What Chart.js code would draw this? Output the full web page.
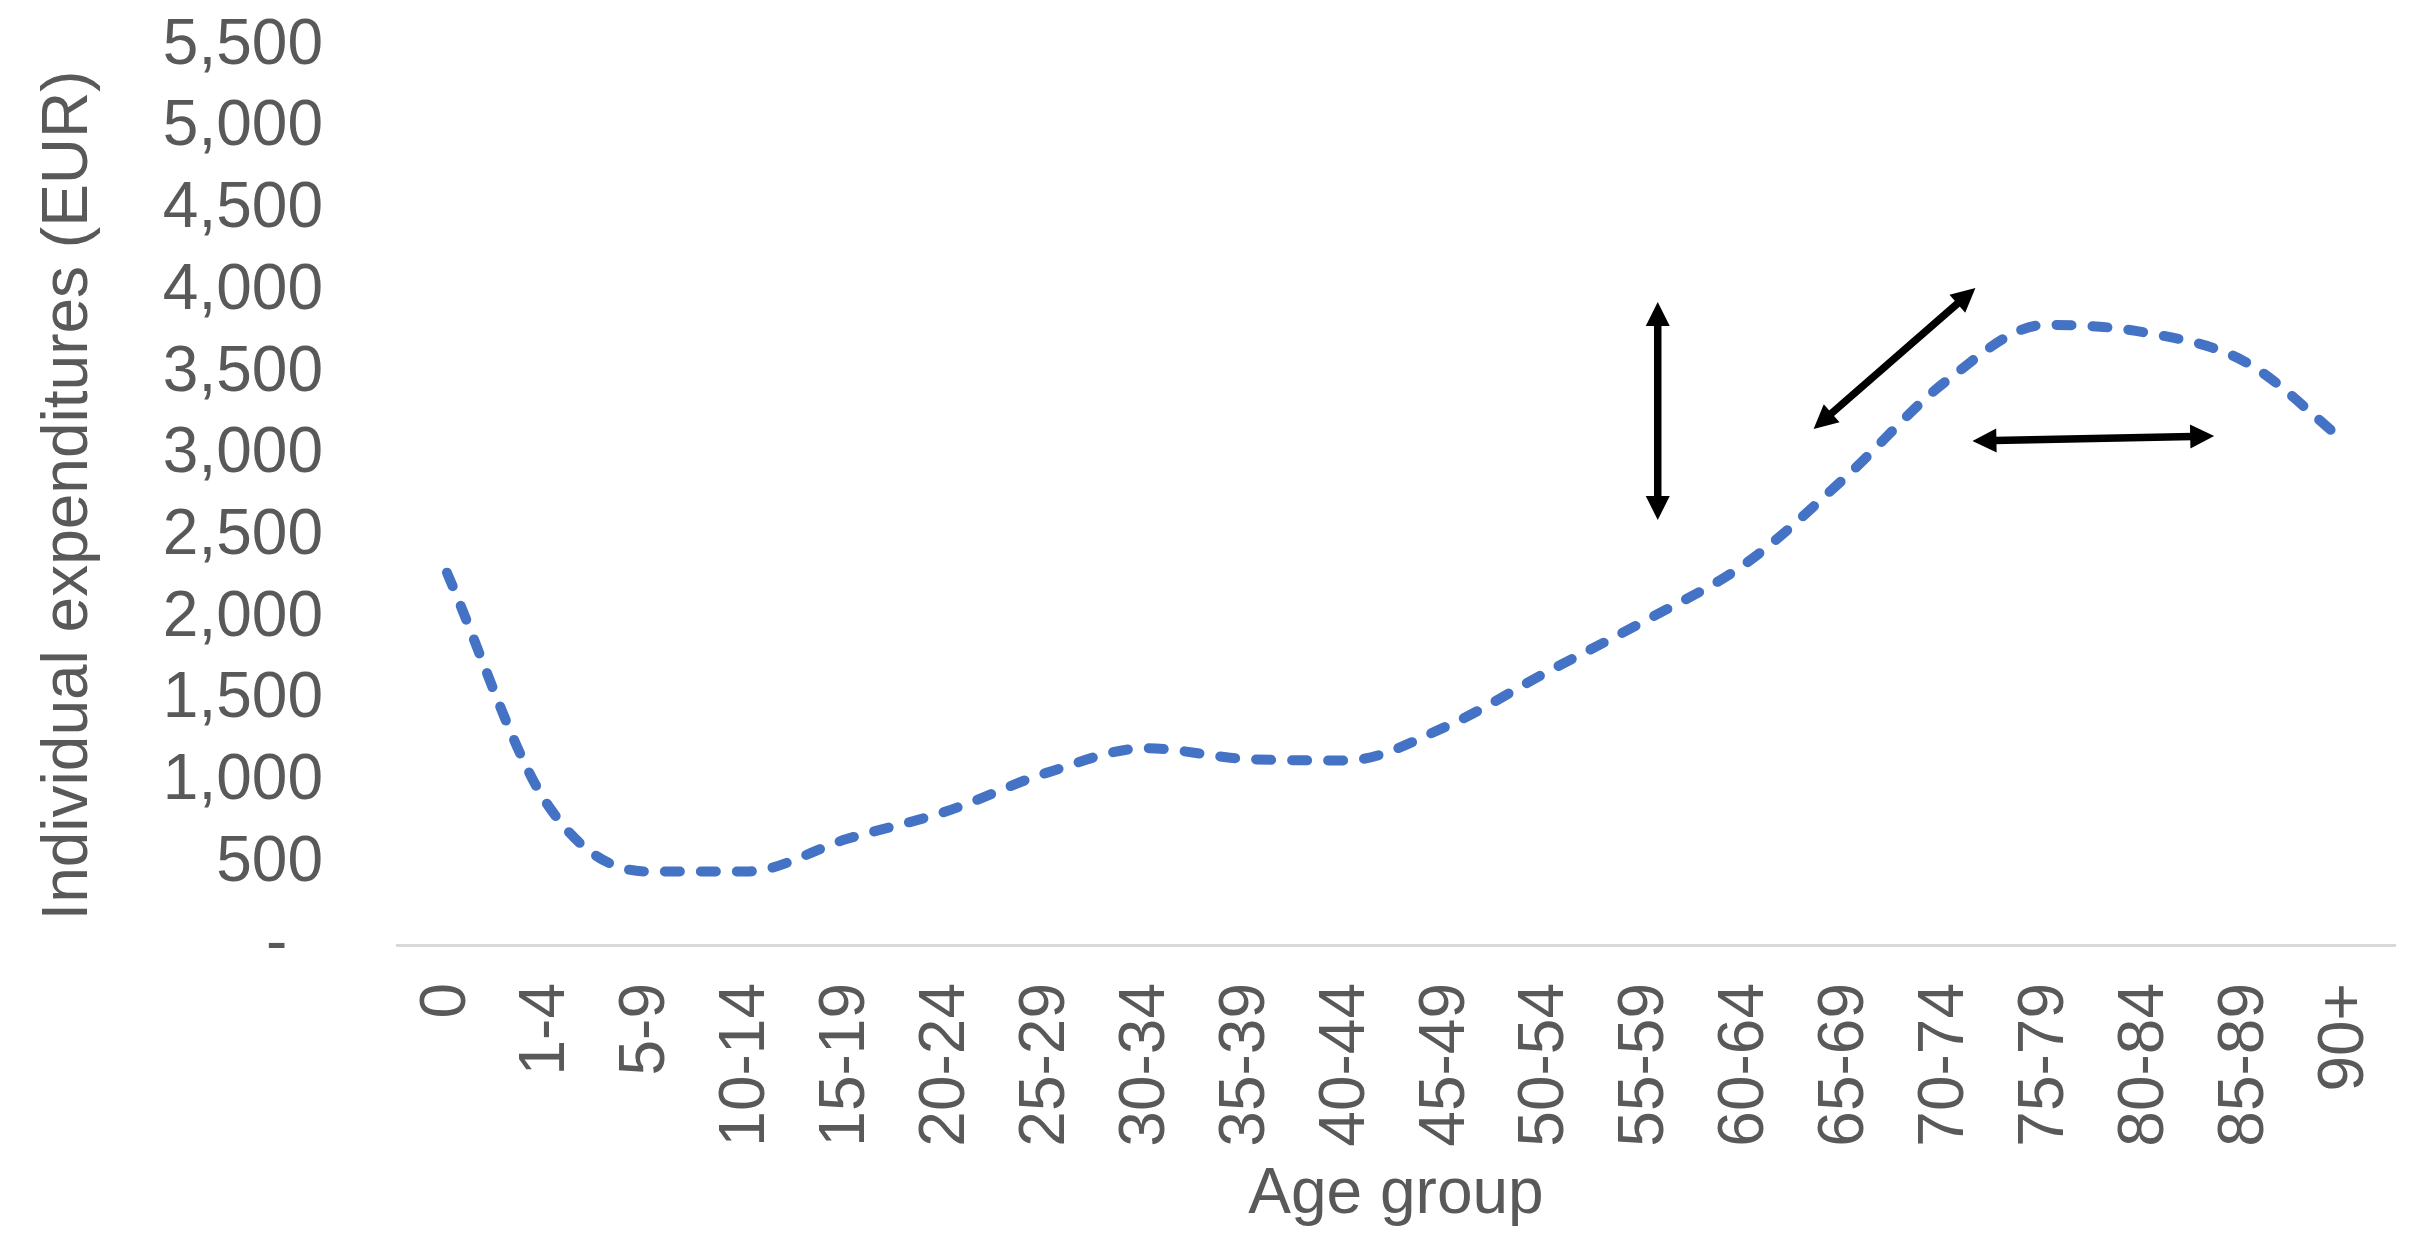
<!DOCTYPE html>
<html>
<head>
<meta charset="utf-8">
<script src="https://cdn.jsdelivr.net/npm/chart.js@4.4.1/dist/chart.umd.min.js"></script>
<style>
	html, body { margin: 0; padding: 0; background: #fff; }
	#wrap { width: 2414px; height: 1234px; position: relative; }
</style>
</head>
<body>
<div id="wrap"><canvas id="graph_expenditures"></canvas></div>
<script>
const ageGroups = ['0', '1-4', '5-9', '10-14', '15-19', '20-24', '25-29', '30-34', '35-39', '40-44',
	'45-49', '50-54', '55-59', '60-64', '65-69', '70-74', '75-79', '80-84', '85-89', '90+'];

const expenditures = [2278, 865, 450, 450, 648, 818, 1053, 1204, 1138, 1129,
	1336, 1666, 1986, 2334, 2862, 3446, 3794, 3747, 3568, 3078];

const yTicks = [0, 500, 1000, 1500, 2000, 2500, 3000, 3500, 4000, 4500, 5000, 5500];

// double-headed arrows, given as [category index, EUR] pairs
const arrowFrom = [[12.12, 2600], [13.68, 3157], [15.27, 3084]];
const arrowTo = [[12.12, 3934], [15.30, 4020], [17.69, 3114]];

const textColor = '#595959';
const font = {family: "'Liberation Sans', Arial, sans-serif", size: 64};

const arrowsPlugin = {
	id: 'arrows',
	afterDatasetsDraw(chart) {
		const {ctx, scales: {x, y}} = chart;
		const head = 24, halfWidth = 12;

		function tip(px, py, ux, uy) {
			ctx.beginPath();
			ctx.moveTo(px, py);
			ctx.lineTo(px - ux * head - uy * halfWidth, py - uy * head + ux * halfWidth);
			ctx.lineTo(px - ux * head + uy * halfWidth, py - uy * head - ux * halfWidth);
			ctx.closePath();
			ctx.fill();
		}

		ctx.save();
		ctx.strokeStyle = '#000';
		ctx.fillStyle = '#000';
		ctx.lineWidth = 7.5;
		arrowFrom.forEach((from, i) => {
			const to = arrowTo[i];
			const x1 = x.getPixelForValue(from[0]), y1 = y.getPixelForValue(from[1]);
			const x2 = x.getPixelForValue(to[0]), y2 = y.getPixelForValue(to[1]);
			const len = Math.hypot(x2 - x1, y2 - y1);
			const ux = (x2 - x1) / len, uy = (y2 - y1) / len;
			ctx.beginPath();
			ctx.moveTo(x1 + ux * (head - 2), y1 + uy * (head - 2));
			ctx.lineTo(x2 - ux * (head - 2), y2 - uy * (head - 2));
			ctx.stroke();
			tip(x2, y2, ux, uy);
			tip(x1, y1, -ux, -uy);
		});
		ctx.restore();
	}
};

new Chart(document.querySelector('#graph_expenditures'), {
	type: 'line',
	data: {
		labels: ageGroups,
		datasets: [{
			data: expenditures,
			borderColor: '#4472C4',
			borderWidth: 10,
			borderDash: [15, 21],
			borderCapStyle: 'round',
			borderJoinStyle: 'round',
			cubicInterpolationMode: 'monotone',
			pointRadius: 0,
			fill: false,
		}]
	},
	options: {
		animation: false,
		responsive: true,
		maintainAspectRatio: false,
		layout: {
			padding: {top: 46, right: 19, bottom: 0, left: 0}
		},
		plugins: {
			legend: {display: false},
			tooltip: {enabled: false},
		},
		scales: {
			x: {
				offset: true,
				grid: {display: false, drawTicks: false},
				border: {display: true, color: '#d9d9d9', width: 3},
				ticks: {
					color: textColor,
					font: font,
					autoSkip: false,
					minRotation: 90,
					maxRotation: 90,
					padding: 38,
				},
				title: {
					display: true,
					text: 'Age group',
					color: textColor,
					font: font,
					padding: {top: 0, bottom: 0},
				},
				afterFit(scale) {
					scale.height = 289;
					scale.paddingLeft = 0;
					scale.paddingRight = 0;
				},
			},
			y: {
				min: 0,
				max: 5500,
				afterBuildTicks(scale) { scale.ticks = yTicks.map(v => ({value: v})); },
				grid: {display: false, drawTicks: false},
				border: {display: false},
				ticks: {
					color: textColor,
					font: font,
					autoSkip: false,
					padding: 74,
					callback: v => v === 0 ? '-\u2007' : v.toLocaleString('en-US'),
				},
				title: {
					display: true,
					text: 'Individual expenditures (EUR)',
					color: textColor,
					font: font,
					padding: {top: 31, bottom: 0},
				},
				afterFit(scale) {
					// keep the plot top fixed by layout padding, not by tick padding
					scale.width = 397;
					scale.paddingTop = 0;
					scale.paddingBottom = 0;
				},
			},
		},
	},
	plugins: [arrowsPlugin],
});
</script>
</body>
</html>
